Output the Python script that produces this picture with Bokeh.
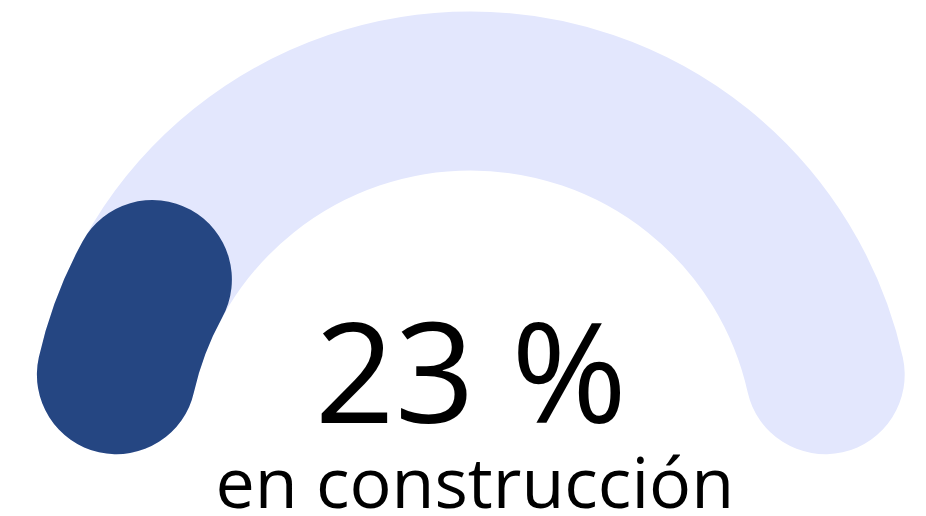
import math
from bokeh.plotting import figure
from bokeh.models import Range1d
from bokeh.core.properties import value
from bokeh.embed import file_html
from bokeh.resources import INLINE

# data
pct_value = 23
pct_max = 100
label_value = "23 %"
label_caption = "en construcción"

W, H = 926, 516
cx, cy = 470.3, 62.3
R = 363.2
thick = 159
rc = thick / 2
cap = math.asin(rc / R)

p = figure(width=W, height=H, output_backend="svg", toolbar_location=None,
           x_range=Range1d(0, W), y_range=Range1d(0, H), min_border=0)
p.axis.visible = False
p.grid.visible = False
p.outline_line_color = None
p.background_fill_color = "white"
p.border_fill_color = "white"

# background arc 180 -> 0 deg
p.arc(x=[cx], y=[cy], radius=R, start_angle=0 + cap, end_angle=math.pi - cap,
      line_width=thick, line_color="#E3E7FD", line_cap="round")

frac = pct_value / pct_max
start = math.pi - frac * math.pi
p.arc(x=[cx], y=[cy], radius=R, start_angle=start + cap, end_angle=math.pi - cap,
      line_width=thick, line_color="#254682", line_cap="round")

p.text(x=[cx], y=[148], text=[label_value], text_font=value("Open Sans"),
       text_font_size="140px", text_align="center", text_baseline="middle",
       text_color="black")
p.text(x=[cx + 4], y=[35.2], text=[label_caption], text_font=value("Open Sans"),
       text_font_size="70px", text_align="center", text_baseline="middle",
       text_color="black")

open("out.html", "w").write(file_html(p, INLINE))
